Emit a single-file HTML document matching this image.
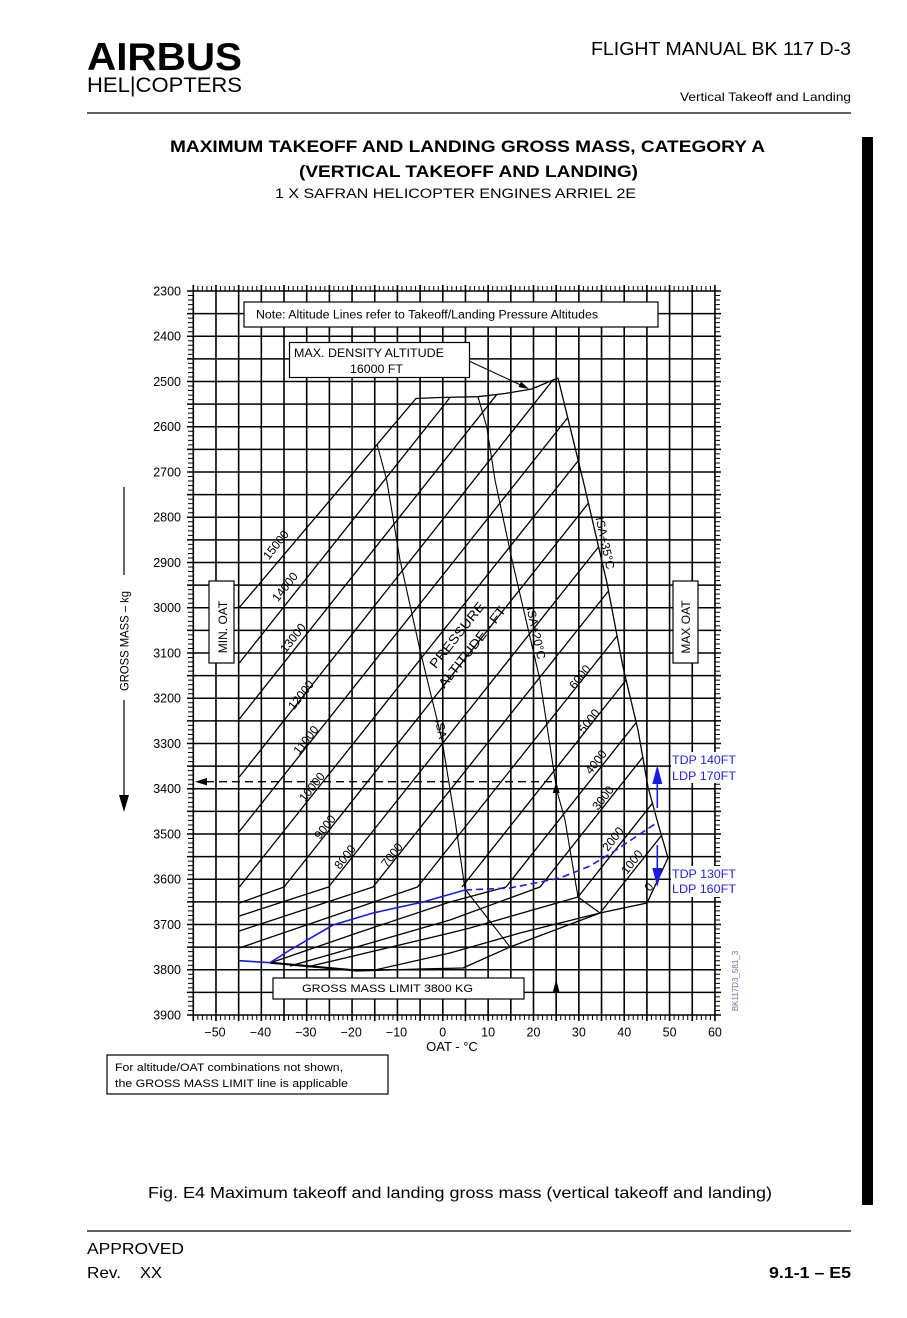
<!DOCTYPE html>
<html><head><meta charset="utf-8"><style>
html,body{margin:0;padding:0;background:#fff;}
svg{display:block;font-family:"Liberation Sans",Arial,sans-serif;}
</style></head><body>
<svg width="907" height="1318" viewBox="0 0 907 1318" xmlns="http://www.w3.org/2000/svg">
<rect width="907" height="1318" fill="#fff"/>
<!-- Header -->
<text x="87" y="70" font-size="39" font-weight="bold" textLength="155" lengthAdjust="spacingAndGlyphs">AIRBUS</text>
<text x="87" y="92" font-size="21" textLength="155" lengthAdjust="spacingAndGlyphs">HEL|COPTERS</text>
<text x="591" y="55" font-size="18" textLength="260" lengthAdjust="spacingAndGlyphs">FLIGHT MANUAL  BK 117 D-3</text>
<text x="680" y="101" font-size="12" textLength="171" lengthAdjust="spacingAndGlyphs">Vertical Takeoff and Landing</text>
<line x1="87" y1="113" x2="851" y2="113" stroke="#000" stroke-width="1.3"/>
<rect x="862" y="137" width="11" height="1068" fill="#000"/>
<!-- Title -->
<text x="170" y="152" font-size="17" font-weight="bold" textLength="595" lengthAdjust="spacingAndGlyphs">MAXIMUM TAKEOFF AND LANDING GROSS MASS, CATEGORY A</text>
<text x="299" y="177" font-size="17" font-weight="bold" textLength="339" lengthAdjust="spacingAndGlyphs">(VERTICAL TAKEOFF AND LANDING)</text>
<text x="275" y="198" font-size="13.5" textLength="361" lengthAdjust="spacingAndGlyphs">1 X SAFRAN HELICOPTER ENGINES ARRIEL 2E</text>

<!-- Grid -->
<path fill="none" stroke="#000" stroke-width="1.6" d="M193.3 285V1021M215.98 285V1021M238.66 285V1021M261.34 285V1021M284.02 285V1021M306.7 285V1021M329.38 285V1021M352.06 285V1021M374.74 285V1021M397.42 285V1021M420.1 285V1021M442.78 285V1021M465.46 285V1021M488.14 285V1021M510.82 285V1021M533.5 285V1021M556.18 285V1021M578.86 285V1021M601.54 285V1021M624.22 285V1021M646.9 285V1021M669.58 285V1021M692.26 285V1021M714.94 285V1021"/>
<path fill="none" stroke="#000" stroke-width="1.6" d="M187 291H721M187 313.63H721M187 336.25H721M187 358.88H721M187 381.5H721M187 404.13H721M187 426.75H721M187 449.38H721M187 472H721M187 494.63H721M187 517.25H721M187 539.88H721M187 562.5H721M187 585.13H721M187 607.75H721M187 630.38H721M187 653H721M187 675.63H721M187 698.25H721M187 720.88H721M187 743.5H721M187 766.13H721M187 788.75H721M187 811.38H721M187 834H721M187 856.63H721M187 879.25H721M187 901.88H721M187 924.5H721M187 947.13H721M187 969.75H721M187 992.38H721M187 1015H721"/>
<!-- Ticks -->
<g stroke="#000" stroke-width="5">
<line x1="192.8" y1="288.5" x2="715.5" y2="288.5" stroke-dasharray="1 3.536"/>
<line x1="192.8" y1="1017.5" x2="715.5" y2="1017.5" stroke-dasharray="1 3.536"/>
<line x1="190.5" y1="290.5" x2="190.5" y2="1015.5" stroke-dasharray="1 3.525"/>
<line x1="717.5" y1="290.5" x2="717.5" y2="1015.5" stroke-dasharray="1 3.525"/>
</g>

<!-- Altitude lines -->
<g fill="none" stroke="#000" stroke-width="1.3" stroke-linejoin="round">
<path d="M239.3 607.5L416 398.5L440 397.5L478 396.7L505 393.5L531.7 389L558 378"/>
<path d="M558 378L583 480L607 583L623 667L638 730L648 787L657 820L668 858L647 903"/>
<path d="M239.3 663L450 397.5"/>
<path d="M239.3 719L497 394.2"/>
<path d="M239.3 777L552.5 380.5"/>
<path d="M239.3 831.5L567.5 418"/>
<path d="M239.3 887L578 461"/>
<path d="M239.3 903L284 887L588.5 503"/>
<path d="M239.3 916L328.5 887L598.5 547"/>
<path d="M239.3 931L373 887L608.5 591"/>
<path d="M239.3 948L417.5 887L617 636"/>
<path d="M462 887L626.5 679.5"/>
<path d="M270 963L360 932L450 902L506 887L636.3 722.4"/>
<path d="M290 966L360 946L450 920L540 887L643 757"/>
<path d="M307 967L450 933L470 928L578 897L652.4 803.3"/>
<path d="M375 970L450 953L520 933L600 913L661.5 835.5"/>
<path d="M358 971L420 969L463 968L510 947L600 913L647 903"/>
</g>
<path d="M270 962.7L358 970.7" fill="none" stroke="#000" stroke-width="2.2"/>
<!-- ISA lines -->
<g fill="none" stroke="#000" stroke-width="1.1" stroke-linejoin="round">
<path d="M377 444L386.7 480L400 560L420 650L442 740L455 820L465 889L510 947"/>
<path d="M478 396.7L486.7 426.7L495 480L512 560L540 680L556.7 790L565 820L578 897L600 913"/>
</g>
<!-- Blue lines -->
<path d="M239.3 960.7L270 962.7L290 950L333 925L373 913L423 902L465 890" fill="none" stroke="#1a1ae6" stroke-width="1.6"/>
<path d="M465 890L510 888L560 878L590 866L613 852L655 824" fill="none" stroke="#1a1ae6" stroke-width="1.6" stroke-dasharray="7 4"/>
<!-- Blue arrows -->
<g stroke="#1a1ae6" stroke-width="1.6" fill="#1a1ae6">
<line x1="657.3" y1="783" x2="657.3" y2="808"/>
<polygon points="657.3,765 652.3,784 662.3,784" stroke="none"/>
<line x1="657.3" y1="845" x2="657.3" y2="869"/>
<polygon points="657.3,887 652.3,868 662.3,868" stroke="none"/>
</g>
<rect x="671" y="752" width="70" height="31" fill="#fff"/>
<rect x="671" y="866" width="70" height="31" fill="#fff"/>
<g fill="#2323e6" font-size="12">
<text x="672" y="764" textLength="64" lengthAdjust="spacingAndGlyphs">TDP 140FT</text>
<text x="672" y="780" textLength="64" lengthAdjust="spacingAndGlyphs">LDP 170FT</text>
<text x="672" y="878" textLength="64" lengthAdjust="spacingAndGlyphs">TDP 130FT</text>
<text x="672" y="893" textLength="64" lengthAdjust="spacingAndGlyphs">LDP 160FT</text>
</g>

<!-- Dashed line and markers -->
<line x1="206" y1="781.7" x2="553" y2="781.7" stroke="#000" stroke-width="1.3" stroke-dasharray="8 5"/>
<polygon points="195,781.7 207,778 207,785.4" fill="#000"/>
<polygon points="556.2,782 552.7,793 559.7,793" fill="#000"/>
<polygon points="556.2,979 552.7,993 559.7,993" fill="#000"/>

<!-- Arrow from density box -->
<line x1="469" y1="361" x2="525" y2="387" stroke="#000" stroke-width="1.1"/>
<polygon points="529,389 518.6,387 521,381.6" fill="#000"/>

<!-- Altitude labels -->
<g font-size="12" text-anchor="middle" dominant-baseline="central">
<text transform="translate(276,545) rotate(-51.6)">15000</text>
<text transform="translate(285,587) rotate(-51.6)">14000</text>
<text transform="translate(293,638) rotate(-51.6)">13000</text>
<text transform="translate(301,695) rotate(-51.6)">12000</text>
<text transform="translate(306,740) rotate(-51.6)">11000</text>
<text transform="translate(312,787) rotate(-51.6)">10000</text>
<text transform="translate(325,827) rotate(-51.6)">9000</text>
<text transform="translate(345,857) rotate(-51.6)">8000</text>
<text transform="translate(392,855) rotate(-51.6)">7000</text>
<text transform="translate(580,677) rotate(-51.6)">6000</text>
<text transform="translate(589,721) rotate(-51.6)">5000</text>
<text transform="translate(596,762) rotate(-51.6)">4000</text>
<text transform="translate(603,798) rotate(-51.6)">3000</text>
<text transform="translate(613,839) rotate(-51.6)">2000</text>
<text transform="translate(632,862) rotate(-51.6)">1000</text>
<text transform="translate(649,887) rotate(-51.6)">0</text>
<text transform="translate(457,635) rotate(-51.6)" font-size="13" textLength="80" lengthAdjust="spacingAndGlyphs">PRESSURE</text>
<text transform="translate(472,647) rotate(-51.6)" font-size="13" textLength="100" lengthAdjust="spacingAndGlyphs">ALTITUDE - FT</text>
<text transform="translate(441,729) rotate(78)">ISA</text>
<text transform="translate(536,633) rotate(78)">ISA+20°C</text>
<text transform="translate(605,543) rotate(78)">ISA+35°C</text>
</g>

<!-- Boxes -->
<g fill="#fff" stroke="#000" stroke-width="1.2">
<rect x="244" y="302" width="414" height="25"/>
<rect x="289.5" y="342.5" width="180" height="35"/>
<rect x="209" y="581" width="25" height="82"/>
<rect x="673" y="581" width="25" height="82"/>
<rect x="273" y="978" width="251" height="21"/>
<rect x="107" y="1055" width="281" height="39"/>
</g>
<text x="256" y="318.5" font-size="11.5" textLength="342" lengthAdjust="spacingAndGlyphs">Note: Altitude Lines refer to Takeoff/Landing Pressure Altitudes</text>
<text x="294" y="357" font-size="11.5" textLength="150" lengthAdjust="spacingAndGlyphs">MAX. DENSITY ALTITUDE</text>
<text x="350" y="373" font-size="11.5" textLength="53" lengthAdjust="spacingAndGlyphs">16000 FT</text>
<text transform="translate(227,627) rotate(-90)" font-size="12" text-anchor="middle">MIN. OAT</text>
<text transform="translate(690,627) rotate(-90)" font-size="12" text-anchor="middle">MAX OAT</text>
<text x="302" y="992" font-size="11" textLength="171" lengthAdjust="spacingAndGlyphs">GROSS MASS LIMIT 3800 KG</text>
<text x="115" y="1071" font-size="11" textLength="228" lengthAdjust="spacingAndGlyphs">For altitude/OAT combinations not shown,</text>
<text x="115" y="1087" font-size="11" textLength="233" lengthAdjust="spacingAndGlyphs">the GROSS MASS LIMIT line is applicable</text>
<text transform="translate(738,981) rotate(-90)" font-size="8" fill="#667799" text-anchor="middle">BK117D3_581_3</text>

<!-- Y axis labels -->
<g font-size="12.5" text-anchor="end">
<text x="181" y="295.5">2300</text>
<text x="181" y="340.7">2400</text>
<text x="181" y="386">2500</text>
<text x="181" y="431.2">2600</text>
<text x="181" y="476.5">2700</text>
<text x="181" y="521.7">2800</text>
<text x="181" y="567">2900</text>
<text x="181" y="612.2">3000</text>
<text x="181" y="657.5">3100</text>
<text x="181" y="702.7">3200</text>
<text x="181" y="748">3300</text>
<text x="181" y="793.2">3400</text>
<text x="181" y="838.5">3500</text>
<text x="181" y="883.7">3600</text>
<text x="181" y="929">3700</text>
<text x="181" y="974.2">3800</text>
<text x="181" y="1019.5">3900</text>
</g>
<!-- X axis labels -->
<g font-size="12.5" text-anchor="middle">
<text x="215" y="1036.5">−50</text>
<text x="260.5" y="1036.5">−40</text>
<text x="305.8" y="1036.5">−30</text>
<text x="351.2" y="1036.5">−20</text>
<text x="396.5" y="1036.5">−10</text>
<text x="442.78" y="1036.5">0</text>
<text x="488.14" y="1036.5">10</text>
<text x="533.5" y="1036.5">20</text>
<text x="578.86" y="1036.5">30</text>
<text x="624.22" y="1036.5">40</text>
<text x="669.58" y="1036.5">50</text>
<text x="714.94" y="1036.5">60</text>
<text x="452" y="1051" font-size="13">OAT - °C</text>
</g>
<!-- Y axis title -->
<line x1="124" y1="487" x2="124" y2="575" stroke="#000" stroke-width="1.2"/>
<text transform="translate(128.5,641) rotate(-90)" font-size="12" text-anchor="middle" textLength="100" lengthAdjust="spacingAndGlyphs">GROSS MASS – kg</text>
<line x1="124" y1="700" x2="124" y2="798" stroke="#000" stroke-width="1.2"/>
<polygon points="124,812 119,795 129,795" fill="#000"/>

<!-- Caption & footer -->
<text x="148" y="1198" font-size="16" textLength="624" lengthAdjust="spacingAndGlyphs">Fig. E4   Maximum takeoff and landing gross mass (vertical takeoff and landing)</text>
<line x1="87" y1="1231" x2="851" y2="1231" stroke="#000" stroke-width="1.3"/>
<text x="87" y="1254" font-size="16" textLength="97" lengthAdjust="spacingAndGlyphs">APPROVED</text>
<text x="87" y="1278" font-size="16" textLength="34" lengthAdjust="spacingAndGlyphs">Rev.</text>
<text x="140" y="1278" font-size="16" textLength="22" lengthAdjust="spacingAndGlyphs">XX</text>
<text x="769" y="1278" font-size="16" font-weight="bold" textLength="82" lengthAdjust="spacingAndGlyphs">9.1-1 – E5</text>
</svg>
</body></html>
